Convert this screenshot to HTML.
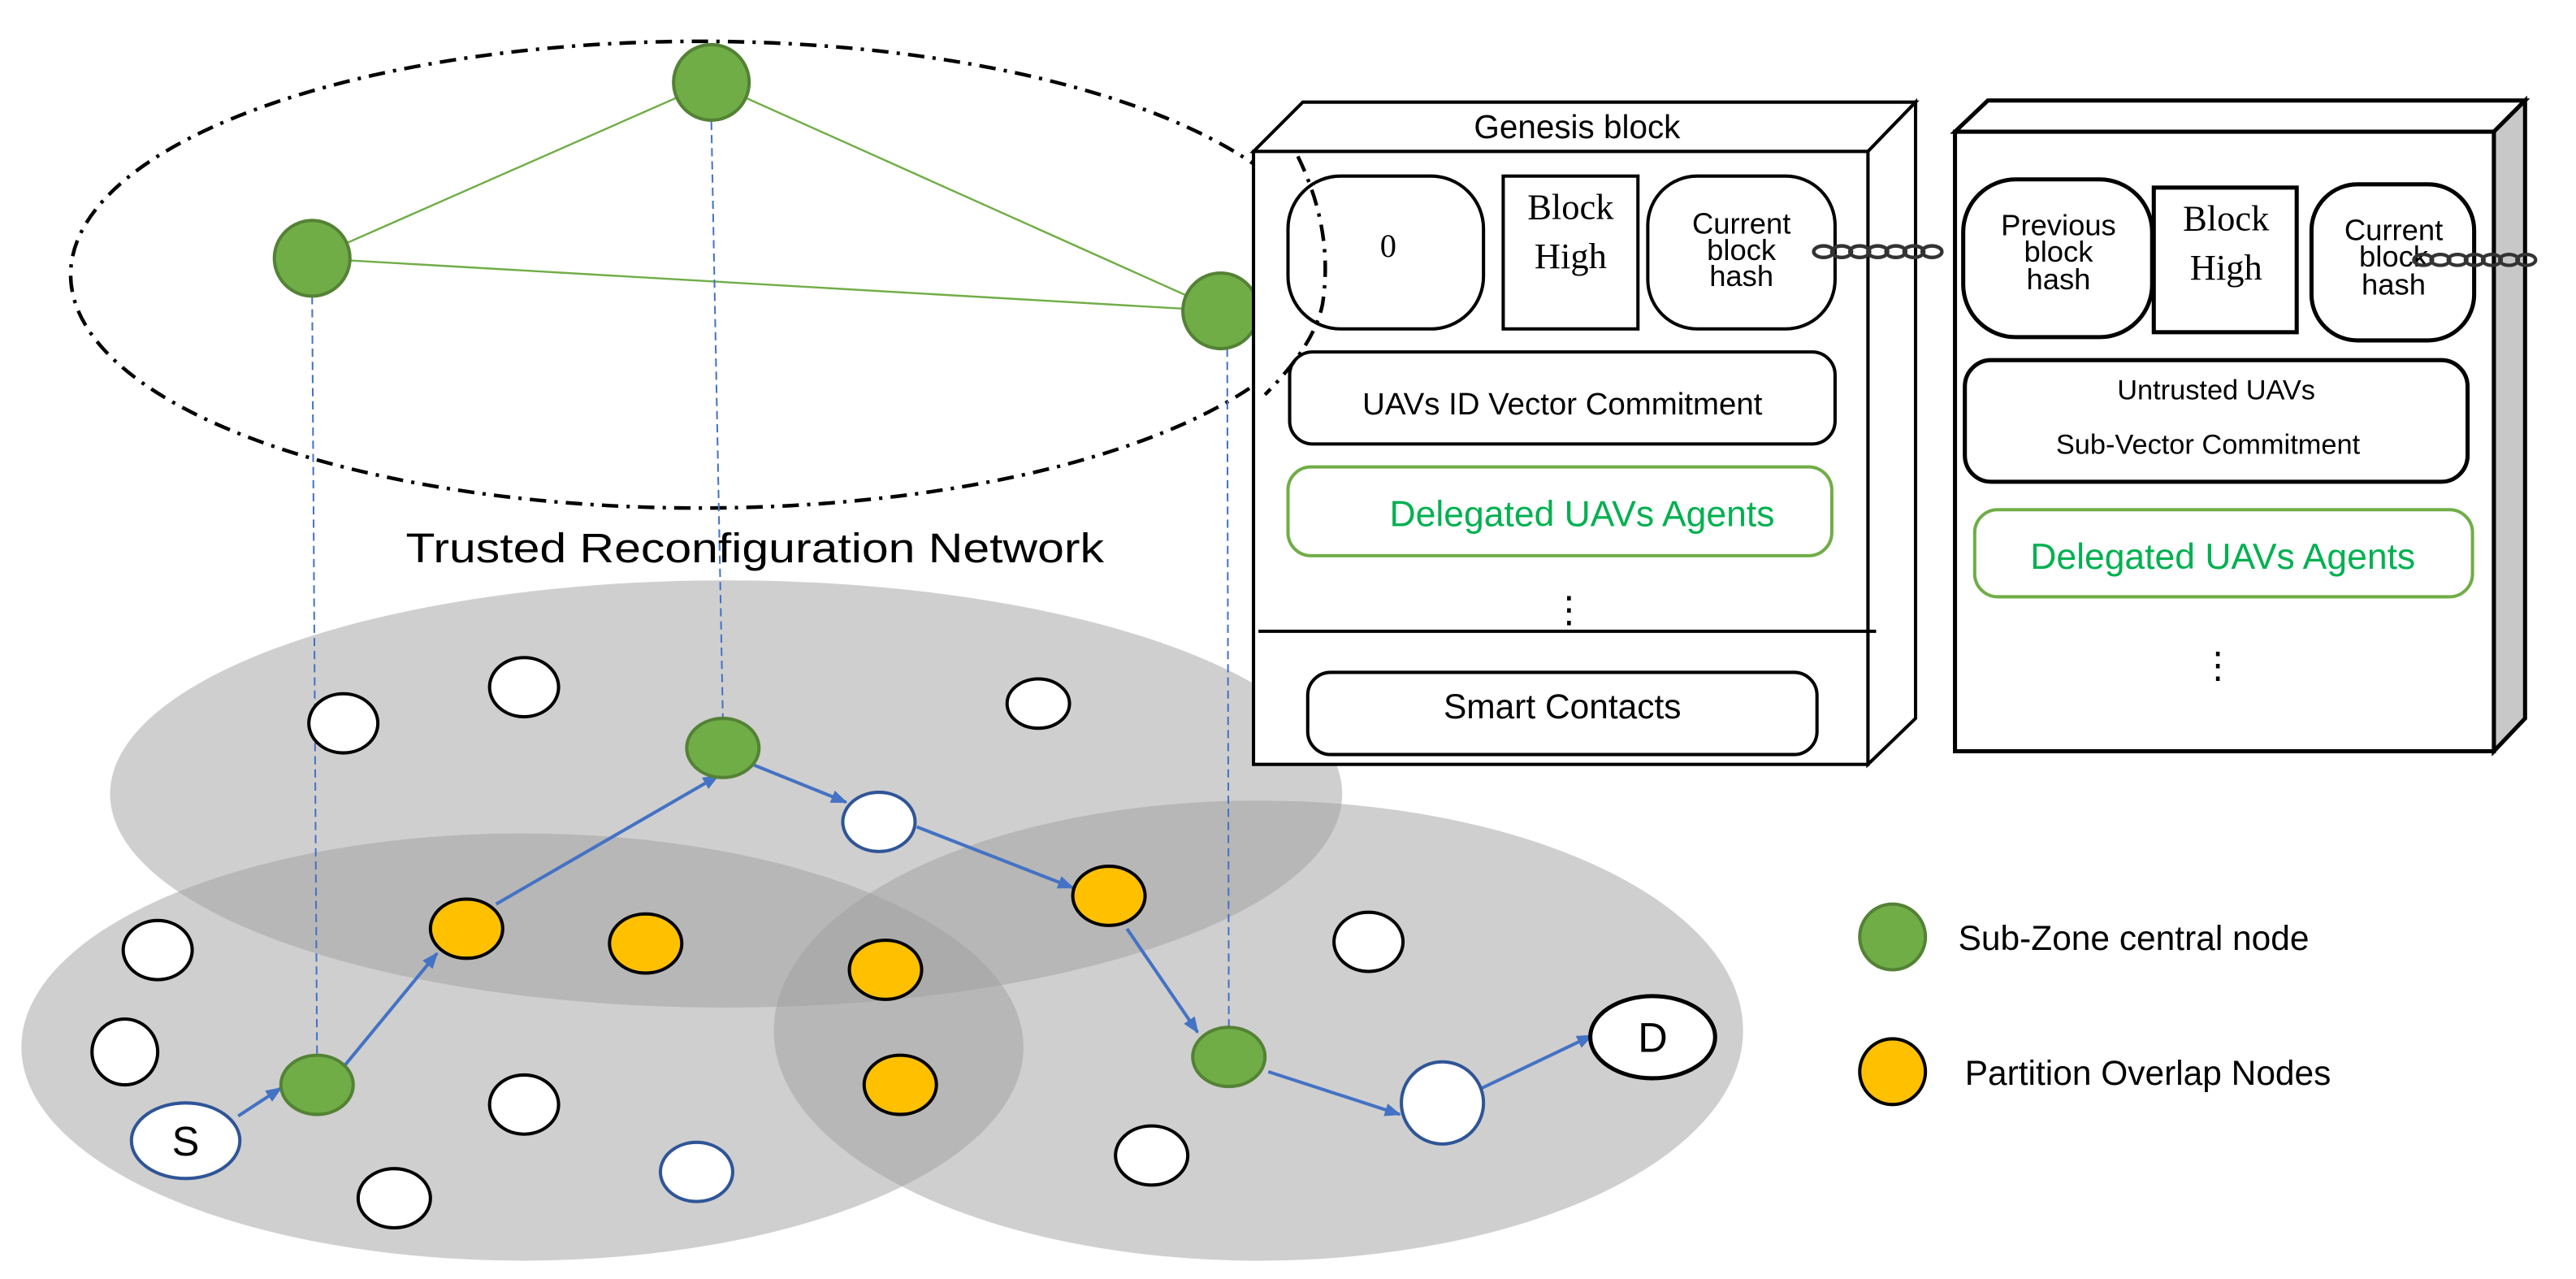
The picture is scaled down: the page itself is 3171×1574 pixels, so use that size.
<!DOCTYPE html>
<html><head><meta charset="utf-8"><style>html,body{margin:0;padding:0;background:#fff}svg{display:block}</style></head>
<body>
<svg xmlns="http://www.w3.org/2000/svg" width="3171" height="1574" viewBox="0 0 1568 778" font-family="Liberation Sans, sans-serif">
<defs>
<marker id="ar" markerWidth="10" markerHeight="8" refX="9" refY="4" orient="auto" markerUnits="userSpaceOnUse"><path d="M0,0 L10,4 L0,8 Z" fill="#4472c4"/></marker>
<g id="chain" fill="none" stroke="#333" stroke-width="2.2">
<ellipse cx="0" cy="0" rx="6" ry="3.5"/><ellipse cx="11" cy="0" rx="6" ry="3.5"/><ellipse cx="22" cy="0" rx="6" ry="3.5"/><ellipse cx="33" cy="0" rx="6" ry="3.5"/><ellipse cx="44" cy="0" rx="6" ry="3.5"/><ellipse cx="55" cy="0" rx="6" ry="3.5"/><ellipse cx="66" cy="0" rx="6" ry="3.5"/>
</g>
</defs>
<rect width="1568" height="778" fill="#fff"/>
<!-- grey zones -->
<g fill="#a0a0a0" fill-opacity="0.5">
<ellipse cx="442" cy="483" rx="375" ry="130"/>
<ellipse cx="318" cy="637" rx="305" ry="130"/>
<ellipse cx="766" cy="627" rx="295" ry="140"/>
</g>
<!-- top ellipse -->
<ellipse cx="426" cy="167" rx="383" ry="142" fill="none" stroke="#000" stroke-width="2.2" stroke-dasharray="10,5,2,5"/>
<!-- green lines -->
<g stroke="#70ad47" stroke-width="1.2">
<line x1="433" y1="50" x2="190" y2="157"/><line x1="433" y1="50" x2="743" y2="189"/><line x1="190" y1="157" x2="743" y2="189"/>
</g>
<!-- dashed verticals -->
<g stroke="#4472c4" stroke-width="1" stroke-dasharray="5,3">
<line x1="190" y1="180" x2="193" y2="645"/><line x1="433" y1="74" x2="440" y2="437"/><line x1="747" y1="212" x2="748" y2="625"/>
</g>
<g fill="#70ad47" stroke="#548235" stroke-width="2">
<circle cx="433" cy="50" r="23"/><circle cx="190" cy="157" r="23"/><circle cx="743" cy="189" r="23"/>
</g>
<text x="247" y="342" font-size="25" textLength="425" lengthAdjust="spacingAndGlyphs">Trusted Reconfiguration Network</text>
<!-- arrows -->
<g stroke="#4472c4" stroke-width="2" marker-end="url(#ar)">
<line x1="145" y1="679" x2="171" y2="662"/><line x1="210" y1="648" x2="266" y2="580"/><line x1="302" y1="550" x2="437" y2="472"/><line x1="458" y1="465" x2="515" y2="488"/><line x1="558" y1="503" x2="653" y2="540"/><line x1="686" y1="565" x2="729" y2="628"/><line x1="772" y1="652" x2="852" y2="678"/><line x1="902" y1="662" x2="969" y2="630"/>
</g>
<!-- white nodes -->
<g fill="#fff" stroke="#000" stroke-width="2">
<ellipse cx="209" cy="440" rx="21" ry="18"/><ellipse cx="319" cy="418" rx="21" ry="18"/><ellipse cx="632" cy="428" rx="19" ry="15"/><ellipse cx="96" cy="578" rx="21" ry="18"/><ellipse cx="76" cy="640" rx="20" ry="20"/><ellipse cx="319" cy="672" rx="21" ry="18"/><ellipse cx="240" cy="729" rx="22" ry="18"/><ellipse cx="833" cy="573" rx="21" ry="18"/><ellipse cx="701" cy="703" rx="22" ry="18"/>
<ellipse cx="1006" cy="631" rx="38" ry="25" stroke-width="2.5"/>
</g>
<g fill="#fff" stroke="#2f5597" stroke-width="2">
<ellipse cx="424" cy="713" rx="22" ry="18"/><ellipse cx="535" cy="500" rx="22" ry="18"/><ellipse cx="878" cy="671" rx="25" ry="25"/><ellipse cx="113" cy="694" rx="33" ry="23"/>
</g>
<text x="113" y="703" font-size="25" text-anchor="middle">S</text>
<text x="1006" y="640" font-size="25" text-anchor="middle">D</text>
<g fill="#70ad47" stroke="#548235" stroke-width="2">
<ellipse cx="193" cy="660" rx="22" ry="18"/><ellipse cx="440" cy="455" rx="22" ry="18"/><ellipse cx="748" cy="643" rx="22" ry="18"/>
</g>
<g fill="#ffc000" stroke="#000" stroke-width="2">
<ellipse cx="284" cy="565" rx="22" ry="18"/><ellipse cx="393" cy="574" rx="22" ry="18"/><ellipse cx="539" cy="590" rx="22" ry="18"/><ellipse cx="548" cy="660" rx="22" ry="18"/><ellipse cx="675" cy="545" rx="22" ry="18"/>
</g>
<!-- Genesis block -->
<g stroke="#000" stroke-width="2" fill="#fff">
<path d="M763,92 L793,62 L1166,62 L1137,92 Z"/>
<path d="M1137,92 L1166,62 L1166,437 L1137,465 Z"/>
<rect x="763" y="92" width="374" height="373"/>
</g>
<text x="960" y="84" font-size="20" text-anchor="middle">Genesis block</text>
<g fill="#fff" stroke="#000" stroke-width="2">
<rect x="784" y="107" width="119" height="93" rx="32"/>
<rect x="915" y="107" width="82" height="93"/>
<rect x="1003" y="107" width="114" height="93" rx="30"/>
<rect x="785" y="214" width="332" height="56" rx="14"/>
<rect x="796" y="409" width="310" height="50" rx="14"/>
</g>
<rect x="784" y="284" width="331" height="54" rx="14" fill="#fff" stroke="#70ad47" stroke-width="2"/>
<path d="M790,95 Q812,140 805,185 Q800,210 770,240" fill="none" stroke="#000" stroke-width="2.2" stroke-dasharray="10,5,2,5"/>
<line x1="766" y1="384" x2="1142" y2="384" stroke="#000" stroke-width="2"/>
<text x="845" y="156" font-size="20" font-family="Liberation Serif, serif" text-anchor="middle">0</text>
<text x="956" y="133" font-size="22" font-family="Liberation Serif, serif" text-anchor="middle">Block</text>
<text x="956" y="163" font-size="22" font-family="Liberation Serif, serif" text-anchor="middle">High</text>
<g font-size="18" text-anchor="middle"><text x="1060" y="142">Current</text><text x="1060" y="158">block</text><text x="1060" y="174">hash</text></g>
<text x="951" y="252" font-size="19" text-anchor="middle">UAVs ID Vector Commitment</text>
<text x="963" y="320" font-size="22" fill="#00b050" text-anchor="middle">Delegated UAVs Agents</text>
<text x="955" y="378" font-size="22" text-anchor="middle">⋮</text>
<text x="951" y="437" font-size="21" text-anchor="middle">Smart Contacts</text>
<!-- second block -->
<g stroke="#000" stroke-width="2.5">
<path d="M1190,80 L1210,61 L1537,61 L1518,80 Z" fill="#fff"/>
<path d="M1518,80 L1537,61 L1537,437 L1518,457 Z" fill="#c8c8c8"/>
<rect x="1190" y="80" width="328" height="377" fill="#fff"/>
</g>
<g fill="#fff" stroke="#000" stroke-width="2.5">
<rect x="1195" y="109" width="115" height="96" rx="32"/>
<rect x="1311" y="114" width="87" height="88"/>
<rect x="1407" y="112" width="99" height="95" rx="28"/>
<rect x="1196" y="219" width="306" height="74" rx="16"/>
</g>
<rect x="1202" y="310" width="303" height="53" rx="14" fill="#fff" stroke="#70ad47" stroke-width="2"/>
<g font-size="18" text-anchor="middle"><text x="1253" y="143">Previous</text><text x="1253" y="159">block</text><text x="1253" y="176">hash</text></g>
<text x="1355" y="140" font-size="22" font-family="Liberation Serif, serif" text-anchor="middle">Block</text>
<text x="1355" y="170" font-size="22" font-family="Liberation Serif, serif" text-anchor="middle">High</text>
<g font-size="18" text-anchor="middle"><text x="1457" y="146">Current</text><text x="1457" y="162">block</text><text x="1457" y="179">hash</text></g>
<text x="1349" y="243" font-size="17" text-anchor="middle">Untrusted UAVs</text>
<text x="1344" y="276" font-size="17" text-anchor="middle">Sub-Vector  Commitment</text>
<text x="1353" y="346" font-size="22" fill="#00b050" text-anchor="middle">Delegated UAVs  Agents</text>
<text x="1350" y="412" font-size="22" text-anchor="middle">⋮</text>
<!-- chains -->
<use href="#chain" x="1110" y="153"/>
<use href="#chain" x="1475" y="158" transform="translate(1475,158) scale(0.95) translate(-1475,-158)"/>
<!-- legend -->
<circle cx="1152" cy="570" r="20" fill="#70ad47" stroke="#548235" stroke-width="2"/>
<text x="1192" y="578" font-size="21">Sub-Zone central node</text>
<circle cx="1152" cy="652" r="20" fill="#ffc000" stroke="#000" stroke-width="2"/>
<text x="1196" y="660" font-size="21">Partition Overlap Nodes</text>
</svg>
</body></html>
